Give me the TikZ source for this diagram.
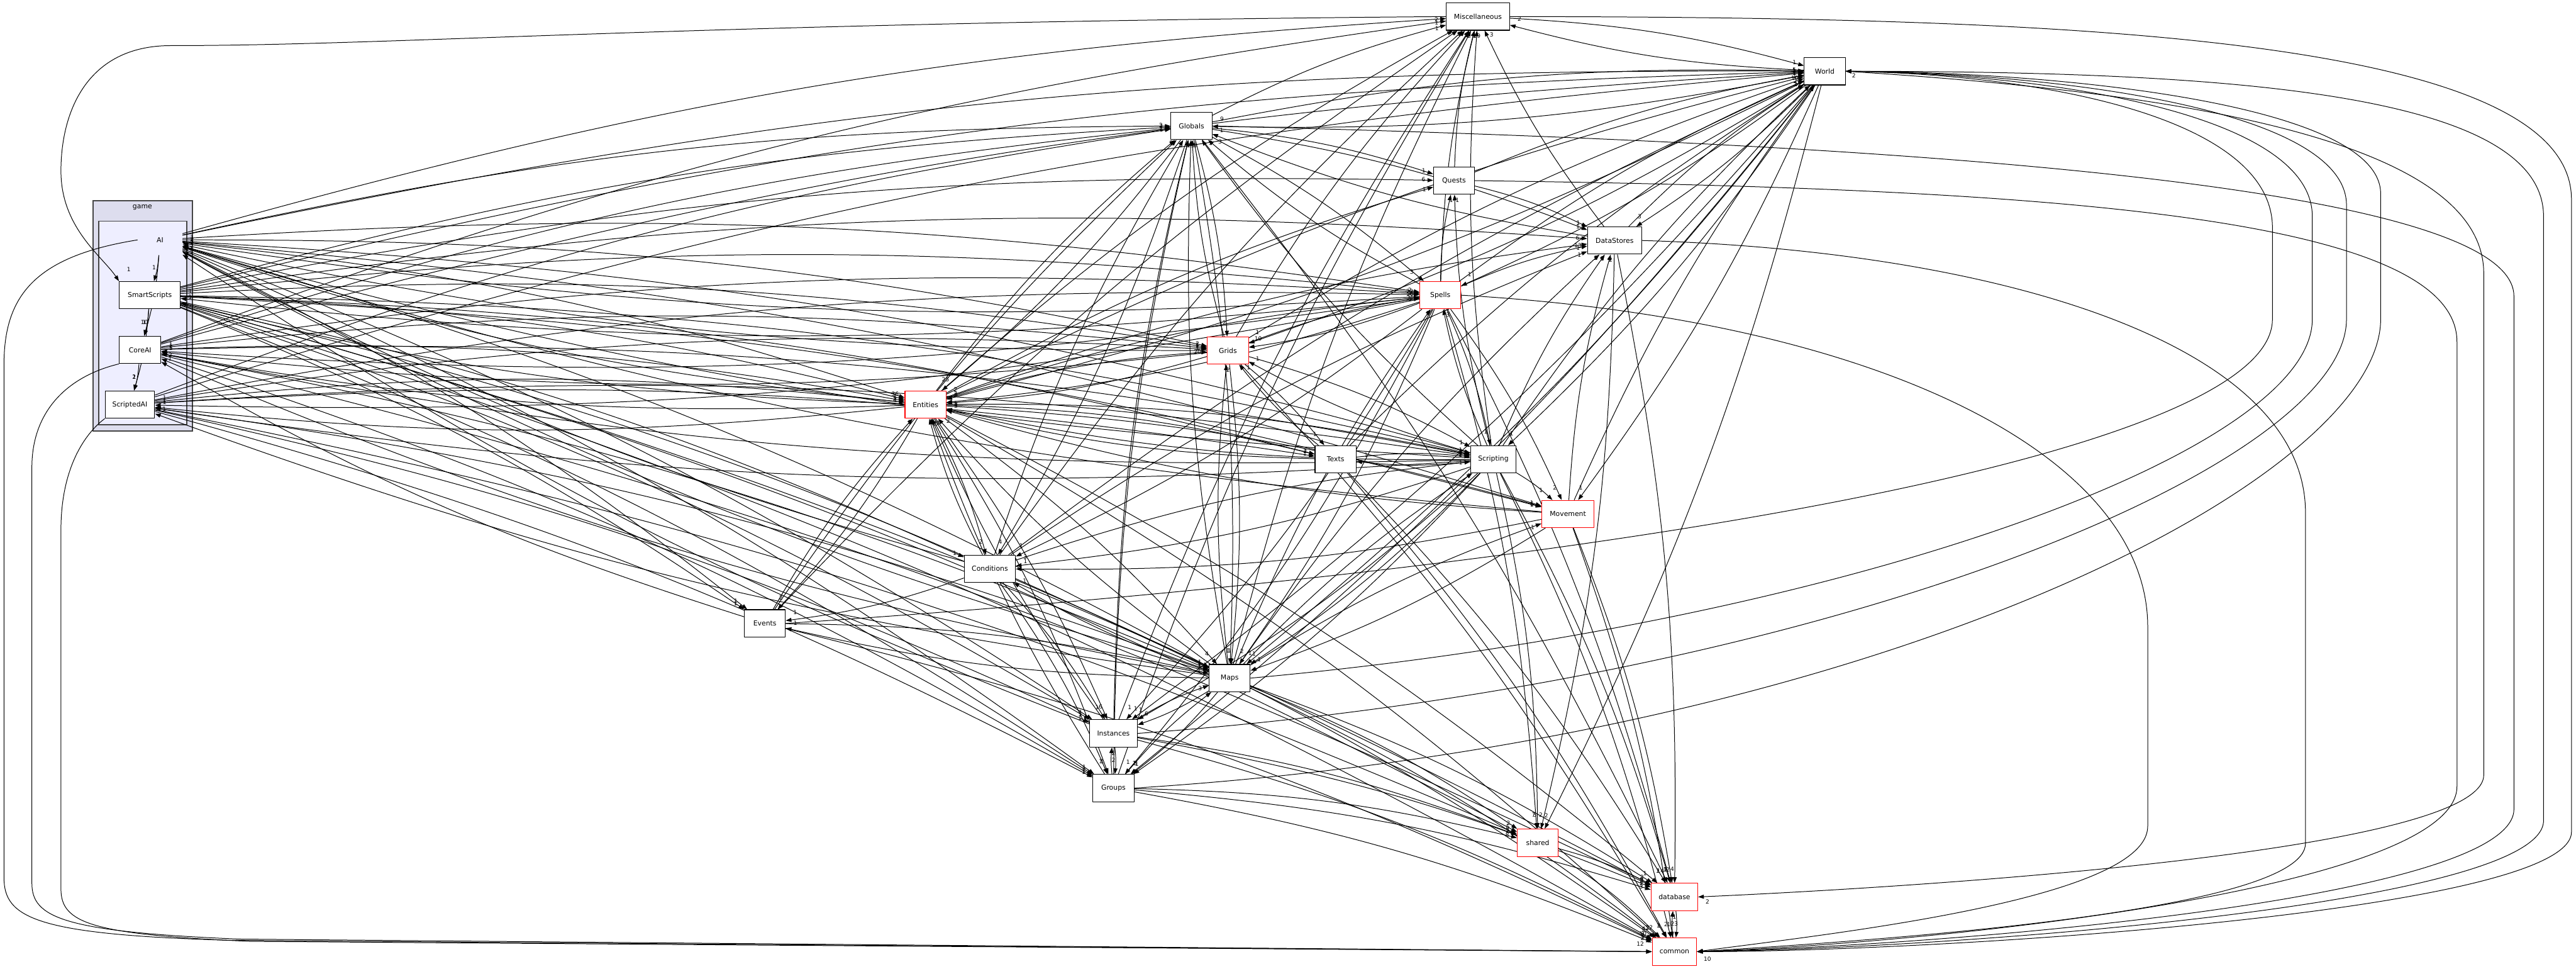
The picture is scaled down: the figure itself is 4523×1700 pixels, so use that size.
\documentclass[tikz,border=0pt]{standalone}
\usepackage{fontspec}
\newfontfamily\dirfont{DejaVu Sans}
\usetikzlibrary{arrows.meta,calc}
\pgfdeclarelayer{back}
\pgfdeclarelayer{wires}
\pgfsetlayers{back,wires,main}
% one unit is one pixel of the original, at a tenth of a point
\newcommand{\Wire}{0.11pt}
\newcommand{\Frame}{0.12pt}
\newcommand{\Bow}{6}
\definecolor{gamefill}{HTML}{DDDDEE}
\definecolor{aifill}{HTML}{EEEEFF}
\definecolor{clusteredge}{HTML}{444444}
\definecolor{subred}{HTML}{FF0000}

\begin{document}
\begin{tikzpicture}[x=0.1pt,y=-0.1pt, line join=round,
  dirbox/.style={draw=black, fill=white, line width=\Frame, minimum height=4.8pt,
    inner sep=0pt, font=\dirfont\fontsize{1.2}{1.4}\selectfont},
  dirred/.style={dirbox, draw=subred},
  dep/.style={draw=black, line width=\Wire, -{Triangle[length=1pt,width=0.7pt]}},
  cnt/.style={font=\dirfont\fontsize{1}{1.2}\selectfont, inner sep=0.1pt, above}]

  \useasboundingbox (0,0) rectangle (4523,1700);

  % ---- the two clusters ---------------------------------------------------
  \begin{pgfonlayer}{back}
    \fill[white] (0,0) rectangle (4523,1700);
    \filldraw[fill=gamefill, draw=clusteredge, line width=0.2pt] (163,352) rectangle (338,756);
    \filldraw[fill=aifill, draw=clusteredge, line width=0.2pt] (173,388) rectangle (328,745);
  \end{pgfonlayer}
  \node[font=\dirfont\fontsize{1.2}{1.4}\selectfont] (game) at (250,364) {game};
  \node[minimum width=7.5pt, minimum height=5pt, inner sep=0pt,
    font=\dirfont\fontsize{1.2}{1.4}\selectfont] (AI) at (281,421) {AI};

  % ---- inside game/AI ----------------------------------------------------
  \node[dirbox, minimum width=10.7pt] (SmartScripts) at (263,518) {SmartScripts};
  \node[dirbox, minimum width=7.3pt]  (CoreAI)       at (246,614) {CoreAI};
  \node[dirbox, minimum width=8.7pt]  (ScriptedAI)   at (228,710) {ScriptedAI};

  % ---- the other directories ---------------------------------------------
  \node[dirbox, minimum width=11.1pt] (Miscellaneous) at (2595,29)   {Miscellaneous};
  \node[dirbox, minimum width=7.2pt]  (World)         at (3204,125)  {World};
  \node[dirbox, minimum width=7.2pt]  (Globals)       at (2092,221)  {Globals};
  \node[dirbox, minimum width=7.2pt]  (Quests)        at (2553,317)  {Quests};
  \node[dirbox, minimum width=9.5pt]  (DataStores)    at (2835,422)  {DataStores};
  \node[dirred, minimum width=7.2pt]  (Spells)        at (2529,518)  {Spells};
  \node[dirred, minimum width=7.2pt]  (Grids)         at (2156,615)  {Grids};
  \node[dirred, minimum width=7.2pt]  (Entities)      at (1625,710)  {Entities};
  \node[dirbox, minimum width=7.2pt]  (Texts)         at (2345,806)  {Texts};
  \node[dirbox, minimum width=8pt]    (Scripting)     at (2622,806)  {Scripting};
  \node[dirred, minimum width=9.2pt]  (Movement)      at (2753,902)  {Movement};
  \node[dirbox, minimum width=9pt]    (Conditions)    at (1738,998)  {Conditions};
  \node[dirbox, minimum width=7.2pt]  (Events)        at (1343,1094) {Events};
  \node[dirbox, minimum width=7.2pt]  (Maps)          at (2159,1190) {Maps};
  \node[dirbox, minimum width=8.4pt]  (Instances)     at (1955,1287) {Instances};
  \node[dirbox, minimum width=7.2pt]  (Groups)        at (1955,1383) {Groups};
  \node[dirred, minimum width=7.2pt]  (shared)        at (2700,1479) {shared};
  \node[dirred, minimum width=8.2pt]  (database)      at (2940,1574) {database};
  \node[dirred, minimum width=7.8pt]  (common)        at (2940,1670) {common};

  \begin{pgfonlayer}{wires}
  % ---- every dependency: source/target/number of includes ----------------
  \foreach \a/\b/\n in {AI/SmartScripts/1, AI/CoreAI/10, SmartScripts/CoreAI/1,
      SmartScripts/ScriptedAI/2, CoreAI/ScriptedAI/1,
      Entities/AI/2, Spells/AI/1, Grids/AI/2, Maps/AI/1, Scripting/AI/1,
      Instances/AI/1, Movement/AI/1, Conditions/AI/1,
      Entities/SmartScripts/1, Spells/SmartScripts/1,
      Entities/CoreAI/5, Spells/CoreAI/1, Maps/CoreAI/2, Scripting/CoreAI/1,
      Grids/CoreAI/1, Events/CoreAI/1,
      Scripting/ScriptedAI/1, Entities/ScriptedAI/1, Spells/ScriptedAI/1,
      Maps/ScriptedAI/1,
      AI/Miscellaneous/2, CoreAI/Miscellaneous/1,
      Entities/Miscellaneous/3, Grids/Miscellaneous/1, Maps/Miscellaneous/2,
      Instances/Miscellaneous/1, Groups/Miscellaneous/1, Events/Miscellaneous/1,
      Conditions/Miscellaneous/1, Globals/Miscellaneous/1, Quests/Miscellaneous/1,
      Scripting/Miscellaneous/9, DataStores/Miscellaneous/3, World/Miscellaneous/2,
      Spells/Miscellaneous/1,
      AI/World/1, SmartScripts/World/3, CoreAI/World/1, ScriptedAI/World/1,
      Entities/World/10, Globals/World/5, Grids/World/2, Spells/World/2,
      Scripting/World/2, Texts/World/1, Miscellaneous/World/1, Quests/World/1,
      DataStores/World/1, Movement/World/1, Conditions/World/1,
      AI/Globals/2, SmartScripts/Globals/3, CoreAI/Globals/1, ScriptedAI/Globals/1,
      Entities/Globals/5, Grids/Globals/3, Spells/Globals/3, Scripting/Globals/3,
      Conditions/Globals/3, Maps/Globals/3, Instances/Globals/1, Groups/Globals/1,
      World/Globals/9, DataStores/Globals/1, Events/Globals/1,
      Globals/Quests/1, Entities/Quests/1, SmartScripts/Quests/6,
      Scripting/Quests/1, Spells/Quests/1,
      Globals/DataStores/1, Quests/DataStores/1, Entities/DataStores/13,
      Spells/DataStores/1, Scripting/DataStores/1, SmartScripts/DataStores/6,
      Maps/DataStores/2, Conditions/DataStores/1, World/DataStores/3,
      Movement/DataStores/2,
      AI/Spells/2, SmartScripts/Spells/22, CoreAI/Spells/1,
      ScriptedAI/Spells/16, Entities/Spells/31, Grids/Spells/1, Globals/Spells/3,
      Scripting/Spells/3, Maps/Spells/2, World/Spells/1,
      AI/Grids/2, SmartScripts/Grids/1, CoreAI/Grids/1, ScriptedAI/Grids/1,
      Entities/Grids/20, Spells/Grids/10, Globals/Grids/2, Maps/Grids/2,
      Scripting/Grids/1, Texts/Grids/1, World/Grids/1,
      AI/Entities/36, SmartScripts/Entities/1, CoreAI/Entities/5,
      ScriptedAI/Entities/4, Globals/Entities/25, Grids/Entities/9,
      Spells/Entities/3, Scripting/Entities/5, Texts/Entities/1, Maps/Entities/2,
      Conditions/Entities/2, Instances/Entities/4, Groups/Entities/5,
      Movement/Entities/3, Events/Entities/1, World/Entities/2,
      Entities/Texts/4, SmartScripts/Texts/2, ScriptedAI/Texts/1,
      Scripting/Texts/1, Grids/Texts/1,
      AI/Scripting/1, SmartScripts/Scripting/4, ScriptedAI/Scripting/5,
      CoreAI/Scripting/1, Entities/Scripting/7, Spells/Scripting/1,
      Grids/Scripting/1, Maps/Scripting/1, World/Scripting/1,
      Conditions/Scripting/1, Texts/Scripting/1,
      Entities/Movement/6, AI/Movement/1, SmartScripts/Movement/1,
      Spells/Movement/2, Scripting/Movement/1, Maps/Movement/1, World/Movement/1,
      Entities/Conditions/2, Globals/Conditions/4,
      Spells/Conditions/1, SmartScripts/Conditions/1, Maps/Conditions/1,
      Scripting/Conditions/3, Movement/Conditions/1,
      Entities/Events/2, Conditions/Events/1, Maps/Events/1, AI/Events/1,
      SmartScripts/Events/1,
      AI/Maps/1, SmartScripts/Maps/1, ScriptedAI/Maps/1, CoreAI/Maps/1,
      Entities/Maps/4, Grids/Maps/1, Globals/Maps/1, Spells/Maps/2,
      Scripting/Maps/1, Movement/Maps/1, Instances/Maps/3, Groups/Maps/1,
      Events/Maps/1, World/Maps/1,
      Entities/Instances/6, AI/Instances/1, ScriptedAI/Instances/1,
      SmartScripts/Instances/1, Maps/Instances/6, Groups/Instances/2,
      Conditions/Instances/1, Spells/Instances/1, Scripting/Instances/1,
      World/Instances/1,
      Entities/Groups/1, AI/Groups/1, SmartScripts/Groups/1, CoreAI/Groups/1,
      ScriptedAI/Groups/1, Instances/Groups/2, Maps/Groups/3, Spells/Groups/1,
      Scripting/Groups/1, Conditions/Groups/1, World/Groups/1,
      SmartScripts/shared/5, ScriptedAI/shared/5,
      Groups/shared/8, Instances/shared/2, Maps/shared/2, Spells/shared/7,
      Scripting/shared/5, DataStores/shared/2, World/shared/2,
      SmartScripts/database/9, CoreAI/database/2, Entities/database/1,
      Globals/database/14, Spells/database/1, Scripting/database/1,
      Maps/database/2, Groups/database/3, Instances/database/2,
      DataStores/database/4, Movement/database/2, shared/database/2,
      common/database/1, Texts/database/1,
      SmartScripts/common/10, Entities/common/2, Conditions/common/2,
      Events/common/1, Maps/common/4, Instances/common/1, Groups/common/2,
      Movement/common/1, Scripting/common/2, shared/common/32,
      database/common/23, Texts/common/1, Grids/common/1} {
    \draw[dep] (\a) to[bend left=\Bow] (\b);
    \path (\b) -- (\a) coordinate[pos=0] (tip);
    \node[cnt] (n-\a-\b) at ($(tip)!1.7pt!(\a)$) {\n};
  }

  % ---- the long ways round, on the left ----------------------------------
  \draw[dep] (Miscellaneous.west) .. controls (1200,40) and (700,80) .. (300,80)
    .. controls (150,80) and (107,200) .. (107,300)
    .. controls (107,400) and (180,450) .. (SmartScripts.north west);
  \node[cnt] (n-misc-ss) at (226,480) {1};
  \draw[dep] (AI.west) .. controls (60,450) and (7,520) .. (7,640)
    -- (7,1540) .. controls (7,1610) and (60,1640) .. (400,1650) -- (common.west);
  \draw[dep] (CoreAI.south west) .. controls (120,660) and (56,720) .. (56,820)
    -- (56,1550) .. controls (56,1610) and (110,1635) .. (420,1648) -- (common.west);
  \draw[dep] (ScriptedAI.south west) .. controls (150,760) and (107,820) .. (107,930)
    -- (107,1560) .. controls (107,1620) and (160,1640) .. (440,1652) -- (common.west);
  \node[cnt] (n-left-common) at (2880,1664) {12};

  % ---- and on the right --------------------------------------------------
  \draw[dep] (Miscellaneous.east) .. controls (3600,30) and (4515,60) .. (4515,350)
    -- (4515,1460) .. controls (4515,1600) and (3400,1670) .. (common.east);
  \draw[dep] (World.east) .. controls (3900,125) and (4466,160) .. (4466,380)
    -- (4466,1440) .. controls (4466,1590) and (3400,1665) .. (common.east);
  \draw[dep] (World.east) .. controls (3800,160) and (4361,240) .. (4361,480)
    -- (4361,1360) .. controls (4361,1500) and (3300,1560) .. (database.east);
  \draw[dep] (Globals.east) .. controls (3300,250) and (4414,320) .. (4414,520)
    -- (4414,1420) .. controls (4414,1580) and (3400,1660) .. (common.east);
  \draw[dep] (Quests.east) .. controls (3600,330) and (4314,380) .. (4314,600)
    -- (4314,1380) .. controls (4314,1560) and (3400,1655) .. (common.east);
  \draw[dep] (DataStores.east) .. controls (3500,440) and (4048,600) .. (4048,900)
    -- (4048,1480) .. controls (4048,1600) and (3300,1650) .. (common.east);
  \draw[dep] (Spells.east) .. controls (3300,560) and (3771,800) .. (3771,1100)
    -- (3771,1450) .. controls (3771,1580) and (3200,1640) .. (common.east);
  \node[cnt] (n-right-common) at (2998,1690) {10};
  \node[cnt] (n-right-database) at (2998,1590) {2};
  \draw[dep] (Maps.east) .. controls (3200,1100) and (4060,800) .. (4060,560)
    -- (4060,380) .. controls (4060,200) and (3600,130) .. (World.east);
  \draw[dep] (Instances.east) .. controls (3200,1200) and (4120,820) .. (4120,560)
    -- (4120,360) .. controls (4120,190) and (3600,128) .. (World.east);
  \draw[dep] (Groups.east) .. controls (3300,1300) and (4180,840) .. (4180,560)
    -- (4180,340) .. controls (4180,180) and (3600,126) .. (World.east);
  \draw[dep] (Events.east) .. controls (2800,1000) and (3990,800) .. (3990,560)
    -- (3990,400) .. controls (3990,210) and (3600,132) .. (World.east);
  \node[cnt] (n-right-world) at (3255,140) {2};
  \end{pgfonlayer}

\end{tikzpicture}
\end{document}
